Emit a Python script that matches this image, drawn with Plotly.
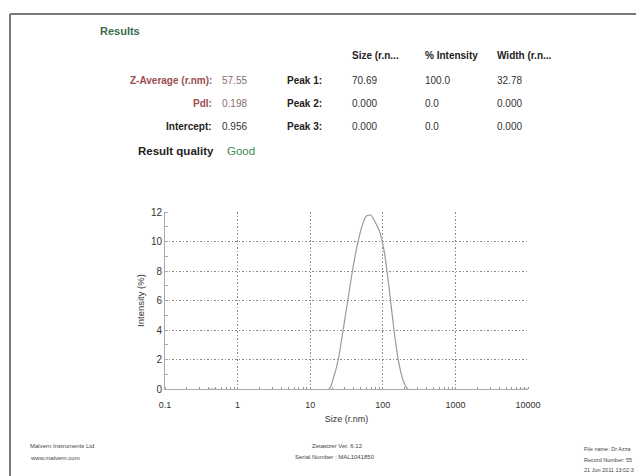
import plotly.graph_objects as go

# ---- data ----
size_nm = [0.4, 18.17, 21.04, 24.36, 28.21, 32.67, 37.84, 43.82, 50.75, 58.77,
           68.06, 78.82, 91.28, 105.7, 122.4, 141.8, 164.2, 190.1, 220.2, 10000]
intensity = [0.0, 0.0, 0.8, 2.0, 3.9, 5.9, 7.9, 9.6, 10.9, 11.7,
             11.8, 11.3, 10.6, 9.2, 6.8, 4.1, 1.9, 0.6, 0.0, 0.0]

x_ticks = [0.1, 1, 10, 100, 1000, 10000]
x_tick_labels = ["0.1", "1", "10", "100", "1000", "10000"]
y_ticks = [0, 2, 4, 6, 8, 10, 12]

headers = ["Size (r.n...", "% Intensity", "Width (r.n..."]
peak_labels = ["Peak 1:", "Peak 2:", "Peak 3:"]
peak_size = ["70.69", "0.000", "0.000"]
peak_int = ["100.0", "0.0", "0.0"]
peak_width = ["32.78", "0.000", "0.000"]
left_labels = ["Z-Average (r.nm):", "PdI:", "Intercept:"]
left_values = ["57.55", "0.198", "0.956"]

# page geometry (page pixels); browser body has an 8px margin
OFF = 8
W, H = 644, 476
L, R, T, B = 165, 528, 212, 389
FONT = "Liberation Sans"


def px(x):
    return (x - L) / (R - L)


def py(y):
    return (B - y) / (B - T)


fig = go.Figure()
fig.add_trace(go.Scatter(x=size_nm, y=intensity, mode="lines",
                         line=dict(color="#9a9a9a", width=1.2, shape="spline", smoothing=0.6),
                         hoverinfo="skip", showlegend=False))

ann = []


def text(x, y, s, size=10, color="#222", anchor="left", bold=False):
    ann.append(dict(x=px(x), y=py(y), xref="paper", yref="paper",
                    text=("<b>%s</b>" % s) if bold else s, showarrow=False,
                    xanchor=anchor, yanchor="middle",
                    font=dict(family=FONT, size=size, color=color)))


text(98, 31, "Results", 11, "#3d6a4c", bold=True)
hx = [350, 423, 495]
for h, x in zip(headers, hx):
    text(x, 56, h, 10, "#222", bold=True)
rows_y = [80, 103, 126]
lab_col = ["#9a4e50", "#9a4e50", "#222"]
val_col = ["#8a6e6e", "#8a6e6e", "#333"]
for i, y in enumerate(rows_y):
    text(214, y, left_labels[i], 10, lab_col[i], "right", bold=True)
    text(220, y, left_values[i], 10, val_col[i])
    text(324, y, peak_labels[i], 10, "#222", "right", bold=True)
    text(350, y, peak_size[i], 10, "#333")
    text(423, y, peak_int[i], 10, "#333")
    text(495, y, peak_width[i], 10, "#333")
text(216, 151, "Result quality", 11.5, "#222", "right", bold=True)
text(225, 151, "Good", 11.5, "#3d8a5a")

# footer
text(28, 446, "Malvern Instruments Ltd", 6, "#444")
text(28, 458, "www.malvern.com", 6, "#444")
text(337, 446, "Zetasizer Ver. 6.12", 6, "#444", "center")
text(335, 457, "Serial Number : MAL1041850", 6, "#444", "center")
text(582, 449, "File name: Dr Azza", 5.5, "#444")
text(582, 460, "Record Number: 55", 5.5, "#444")
text(582, 470, "21 Jun 2011 13:02:3", 5.5, "#444")

shapes = [
    dict(type="line", xref="paper", yref="paper", x0=px(10), x1=px(660),
         y0=py(14), y1=py(14), line=dict(color="#777", width=2)),
    dict(type="line", xref="paper", yref="paper", x0=px(10), x1=px(10),
         y0=py(14), y1=py(490), line=dict(color="#777", width=2)),
]

fig.update_layout(
    width=W - OFF, height=H - OFF,
    margin=dict(l=L - OFF, r=W - R, t=T - OFF, b=H - B, pad=0),
    paper_bgcolor="white", plot_bgcolor="white",
    annotations=ann, shapes=shapes,
    font=dict(family=FONT, size=9, color="#333"),
    xaxis=dict(type="log", range=[-1, 4], tickvals=x_ticks, ticktext=x_tick_labels,
               showgrid=True, gridcolor="#888", griddash="1.5px,2px", gridwidth=1.2,
               showline=True, linecolor="#aaa", linewidth=1, zeroline=False,
               ticks="", tickfont=dict(size=9, color="#333"), ticklabelstandoff=7,
               minor=dict(ticks="inside", ticklen=2, tickcolor="#999", dtick="D1",
                          showgrid=False),
               title=dict(text="Size (r.nm)", font=dict(size=9, color="#333"), standoff=6)),
    yaxis=dict(range=[0, 12], tickvals=y_ticks, showgrid=True, gridcolor="#888",
               griddash="1.5px,2px", gridwidth=1.2, showline=True, linecolor="#aaa",
               linewidth=1, zeroline=False, ticks="", tickfont=dict(size=10, color="#333"),
               minor=dict(dtick=1, ticks="inside", ticklen=3, tickcolor="#aaa", showgrid=False),
               title=dict(text="Intensity (%)", font=dict(size=9.5, color="#333"), standoff=4)),
)

fig.write_html("out.html")
